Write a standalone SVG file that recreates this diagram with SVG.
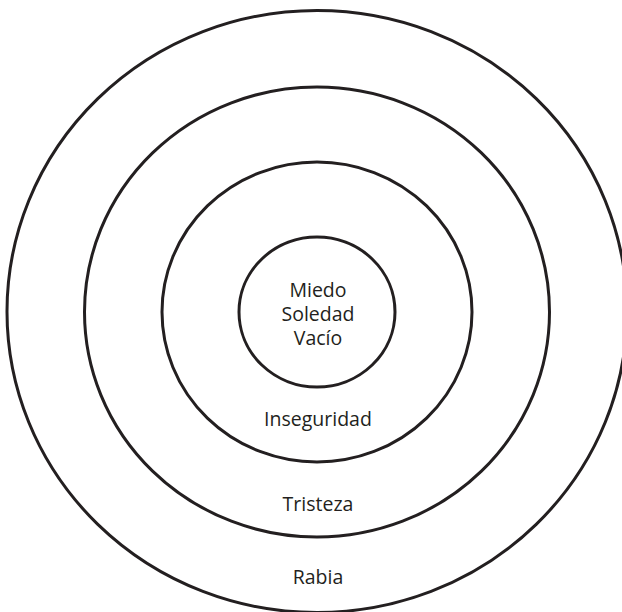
<svg xmlns="http://www.w3.org/2000/svg" width="622" height="612" viewBox="0 0 622 612">
<style>
.ring{fill:none;stroke:#231f20;stroke-width:3}
.lbl{font-family:"Open Sans","Noto Sans",sans-serif;font-size:19.5px;fill:#231f20;text-anchor:middle}
</style>
<rect width="622" height="612" fill="#ffffff"/>
<g id="rabia">
<ellipse class="ring" cx="317" cy="311.5" rx="310" ry="301"/>
<text class="lbl" x="318" y="584">Rabia</text>
</g>
<g id="tristeza">
<ellipse class="ring" cx="317" cy="312" rx="232.5" ry="225"/>
<text class="lbl" x="318" y="511">Tristeza</text>
</g>
<g id="inseguridad">
<ellipse class="ring" cx="317" cy="312" rx="155" ry="150"/>
<text class="lbl" x="318" y="426">Inseguridad</text>
</g>
<g id="nucleo">
<ellipse class="ring" cx="317" cy="312" rx="78" ry="75"/>
<text class="lbl" x="318" y="297">Miedo</text>
<text class="lbl" x="318" y="321">Soledad</text>
<text class="lbl" x="318" y="345">Vacío</text>
</g>
<g id="connectors"></g>
</svg>
